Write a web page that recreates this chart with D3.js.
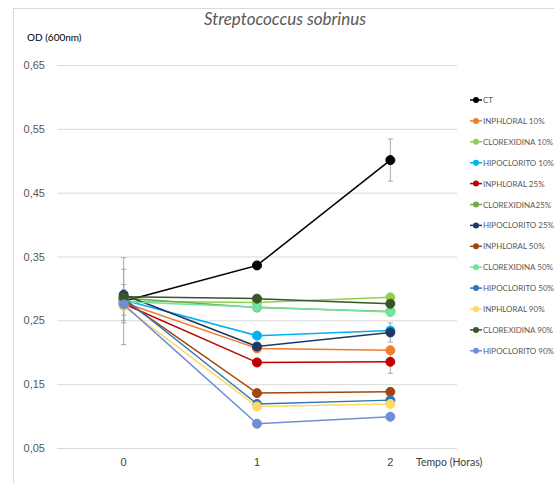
<!DOCTYPE html>
<html>
<head>
<meta charset="utf-8">
<script src="https://cdn.jsdelivr.net/npm/d3@7"></script>
<style>
  html, body { margin: 0; padding: 0; background: #fff; }
  svg { display: block; font-family: Lato, "Open Sans", sans-serif; }
</style>
</head>
<body>
<svg id="chart" width="554" height="483"></svg>
<script>
// Optical density of S. sobrinus over time, per treatment
const hours = ["0", "1", "2"];
const yTicks = [0.05, 0.15, 0.25, 0.35, 0.45, 0.55, 0.65];

const seriesNames = [
  "CT", "INPHLORAL 10%", "CLOREXIDINA 10%", "HIPOCLORITO 10%",
  "INPHLORAL 25%", "CLOREXIDINA25%", "HIPOCLORITO 25%",
  "INPHLORAL  50%", "CLOREXIDINA 50%", "HIPOCLORITO  50%",
  "INPHLORAL 90%", "CLOREXIDINA 90%", "HIPOCLORITO 90%"
];
const seriesColors = [
  "#000000", "#ED7D31", "#92D050", "#00B0F0",
  "#C00000", "#70AD47", "#203864",
  "#9E480E", "#72E3A0", "#2E75B6",
  "#FFD966", "#375623", "#6E8FD6"
];
const seriesValues = [
  [0.280, 0.336, 0.501],
  [0.278, 0.206, 0.203],
  [0.280, 0.278, 0.286],
  [0.282, 0.226, 0.234],
  [0.276, 0.184, 0.185],
  [0.285, 0.270, 0.264],
  [0.290, 0.209, 0.231],
  [0.282, 0.136, 0.138],
  [0.279, 0.271, 0.263],
  [0.285, 0.119, 0.125],
  [0.272, 0.115, 0.119],
  [0.287, 0.284, 0.276],
  [0.275, 0.088, 0.099]
];
const seriesErrors = [
  [0.068, 0.006, 0.033],
  [0.020, 0.000, 0.000],
  [0.000, 0.000, 0.000],
  [0.000, 0.000, 0.000],
  [0.030, 0.000, 0.018],
  [0.000, 0.000, 0.000],
  [0.040, 0.000, 0.015],
  [0.000, 0.000, 0.000],
  [0.000, 0.000, 0.000],
  [0.000, 0.000, 0.000],
  [0.000, 0.000, 0.000],
  [0.000, 0.000, 0.000],
  [0.000, 0.000, 0.000]
];

const svg = d3.select("#chart");

// outer chart frame
svg.append("rect")
  .attr("x", 13.5).attr("y", 8.5)
  .attr("width", 545).attr("height", 480)
  .attr("fill", "none").attr("stroke", "#d9d9d9").attr("stroke-width", 1);

const plot = { left: 57, right: 457, top: 65, bottom: 448 };

const x = d3.scaleBand().domain(hours).range([plot.left, plot.right]);
const xc = d => x(d) + x.bandwidth() / 2;
const y = d3.scaleLinear().domain([0.05, 0.65]).range([plot.bottom, plot.top]);

// horizontal gridlines + value labels
const yAxis = d3.axisLeft(y)
  .tickValues(yTicks)
  .tickSize(-(plot.right - plot.left))
  .tickPadding(12)
  .tickFormat(d => d3.format(".2f")(d).replace(".", ","));
const gy = svg.append("g").attr("transform", `translate(${plot.left},0)`).call(yAxis);
gy.select(".domain").remove();
gy.selectAll(".tick line").attr("stroke", "#d9d9d9").attr("stroke-width", 1);
gy.selectAll(".tick text").attr("fill", "#595959").attr("font-size", 11);

// category labels
const xAxis = d3.axisBottom(x).tickSize(0).tickPadding(10);
const gx = svg.append("g").attr("transform", `translate(0,${plot.bottom})`).call(xAxis);
gx.select(".domain").remove();
gx.selectAll(".tick text").attr("fill", "#404040").attr("font-size", 11);

// titles
svg.append("text")
  .attr("x", 285).attr("y", 25)
  .attr("text-anchor", "middle")
  .attr("font-style", "italic")
  .attr("font-size", 17)
  .attr("fill", "#595959")
  .text("Streptococcus sobrinus");

svg.append("text")
  .attr("x", 27).attr("y", 41)
  .attr("font-size", 10)
  .attr("fill", "#000")
  .text("OD (600nm)");

svg.append("text")
  .attr("x", 416).attr("y", 466)
  .attr("font-size", 10.5)
  .attr("fill", "#404040")
  .text("Tempo (Horas)");

const series = seriesNames.map((name, i) => ({
  name, color: seriesColors[i],
  points: hours.map((h, j) => ({ h, v: seriesValues[i][j], e: seriesErrors[i][j] }))
}));

// error bars
const eb = svg.append("g").attr("stroke", "#a6a6a6").attr("stroke-width", 1);
series.forEach(s => {
  s.points.filter(p => p.e > 0).forEach(p => {
    const cx = xc(p.h);
    eb.append("line").attr("x1", cx).attr("x2", cx)
      .attr("y1", y(p.v - p.e)).attr("y2", y(p.v + p.e));
    [p.v - p.e, p.v + p.e].forEach(v => {
      eb.append("line").attr("x1", cx - 2.5).attr("x2", cx + 2.5)
        .attr("y1", y(v)).attr("y2", y(v));
    });
  });
});

// lines and markers
const line = d3.line().x(p => xc(p.h)).y(p => y(p.v));
series.forEach(s => {
  const g = svg.append("g");
  g.append("path").datum(s.points)
    .attr("d", line)
    .attr("fill", "none")
    .attr("stroke", s.color)
    .attr("stroke-width", 1.5);
  g.selectAll("circle").data(s.points).join("circle")
    .attr("cx", p => xc(p.h)).attr("cy", p => y(p.v))
    .attr("r", 4.5)
    .attr("fill", s.color)
    .attr("stroke", s.color).attr("stroke-width", 1);
});

// legend
const legend = svg.append("g").attr("transform", "translate(470,100)");
series.forEach((s, i) => {
  const g = legend.append("g").attr("transform", `translate(0,${i * 20.9})`);
  g.append("line").attr("x1", 0).attr("x2", 12).attr("y1", 0).attr("y2", 0)
    .attr("stroke", s.color).attr("stroke-width", 1.5);
  g.append("circle").attr("cx", 6).attr("cy", 0).attr("r", 3).attr("fill", s.color);
  g.append("text").attr("x", 13).attr("y", 3)
    .attr("font-size", 8).attr("fill", "#595959")
    .text(s.name);
});
</script>
</body>
</html>
